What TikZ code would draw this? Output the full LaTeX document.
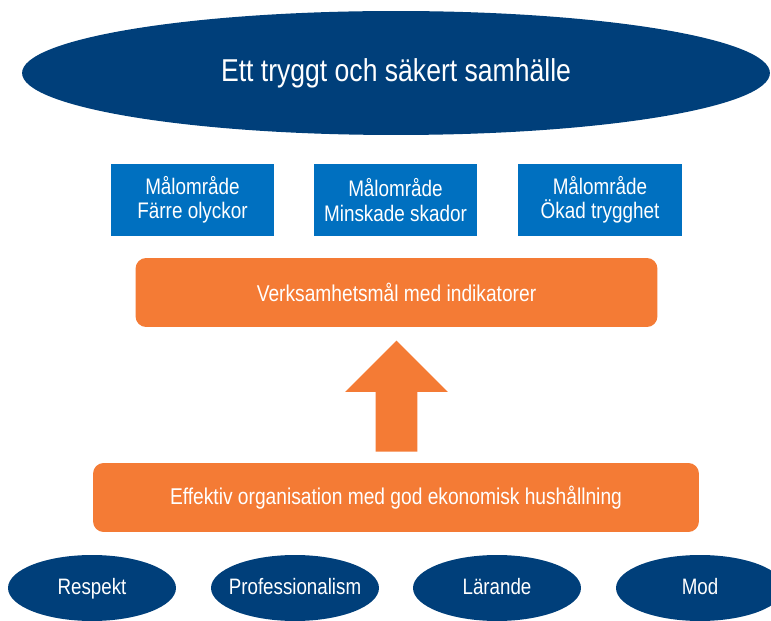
\documentclass[tikz,border=0pt]{standalone}
\usepackage{fontspec}
\setsansfont[FakeStretch=0.84]{Liberation Sans}
\usetikzlibrary{positioning,shapes.geometric,shapes.arrows}
\definecolor{navy}{HTML}{003F7A}
\definecolor{cobalt}{HTML}{0070C0}
\definecolor{tangerine}{HTML}{F47B35}
\tikzset{
  font=\sffamily,
  %% nodes
  vision/.style   = {ellipse, fill=navy, text=white, inner sep=0pt,
                     minimum width=14.96cm, minimum height=2.48cm,
                     font=\sffamily\fontsize{18}{21}\selectfont},
  goal/.style     = {rectangle, fill=cobalt, text=white, align=center,
                     minimum width=3.28cm, minimum height=1.46cm,
                     font=\sffamily\fontsize{12.8}{13.8}\selectfont},
  band/.style     = {rounded corners=6pt, fill=tangerine, text=white,
                     minimum height=1.38cm,
                     font=\sffamily\fontsize{13}{15}\selectfont},
  value/.style    = {ellipse, fill=navy, text=white, inner sep=0pt,
                     minimum width=3.36cm, minimum height=1.32cm,
                     text height=0.86em, text depth=0.08em,
                     font=\sffamily\fontsize{12.7}{15}\selectfont},
  lift/.style     = {single arrow, fill=tangerine, rotate=90,
                     inner xsep=0pt, inner ysep=0.41cm,
                     minimum height=2.22cm,
                     single arrow head extend=0.61cm, single arrow tip angle=90},
}
\begin{document}
\begin{tikzpicture}[x=0.02cm, y=-0.02cm]
\useasboundingbox (0,0) rectangle (771,621);

%% ---- vision (top) ----
\node[vision] (society) at (396,73) {Ett tryggt och säkert samhälle};

%% ---- goal areas ----
\node[goal] (fewer)  at (192.5,200) {Målområde\\Färre olyckor};
\node[goal] (damage) at (395.5,200) {Målområde\\Minskade skador};
\node[goal] (safety) at (600,200)   {Målområde\\Ökad trygghet};

%% ---- orange bands ----
\node[band, minimum width=10.44cm] (targets) at (396.5,292.5)
   {Verksamhetsmål med indikatorer};
\node[lift] (push) at (396.5,406.5) {};
\node[band, minimum width=12.12cm] (org) at (396,497.5)
   {Effektiv organisation med god ekonomisk hushållning};

%% ---- values (bottom) ----
\node[value] (respect) at (92,588)  {Respekt};
\node[value] (prof)    at (295,588) {\makebox[0pt]{Professionalism}};
\node[value] (learn)   at (497,588) {Lärande};
\node[value] (courage) at (700,588) {Mod};
\end{tikzpicture}
\end{document}
